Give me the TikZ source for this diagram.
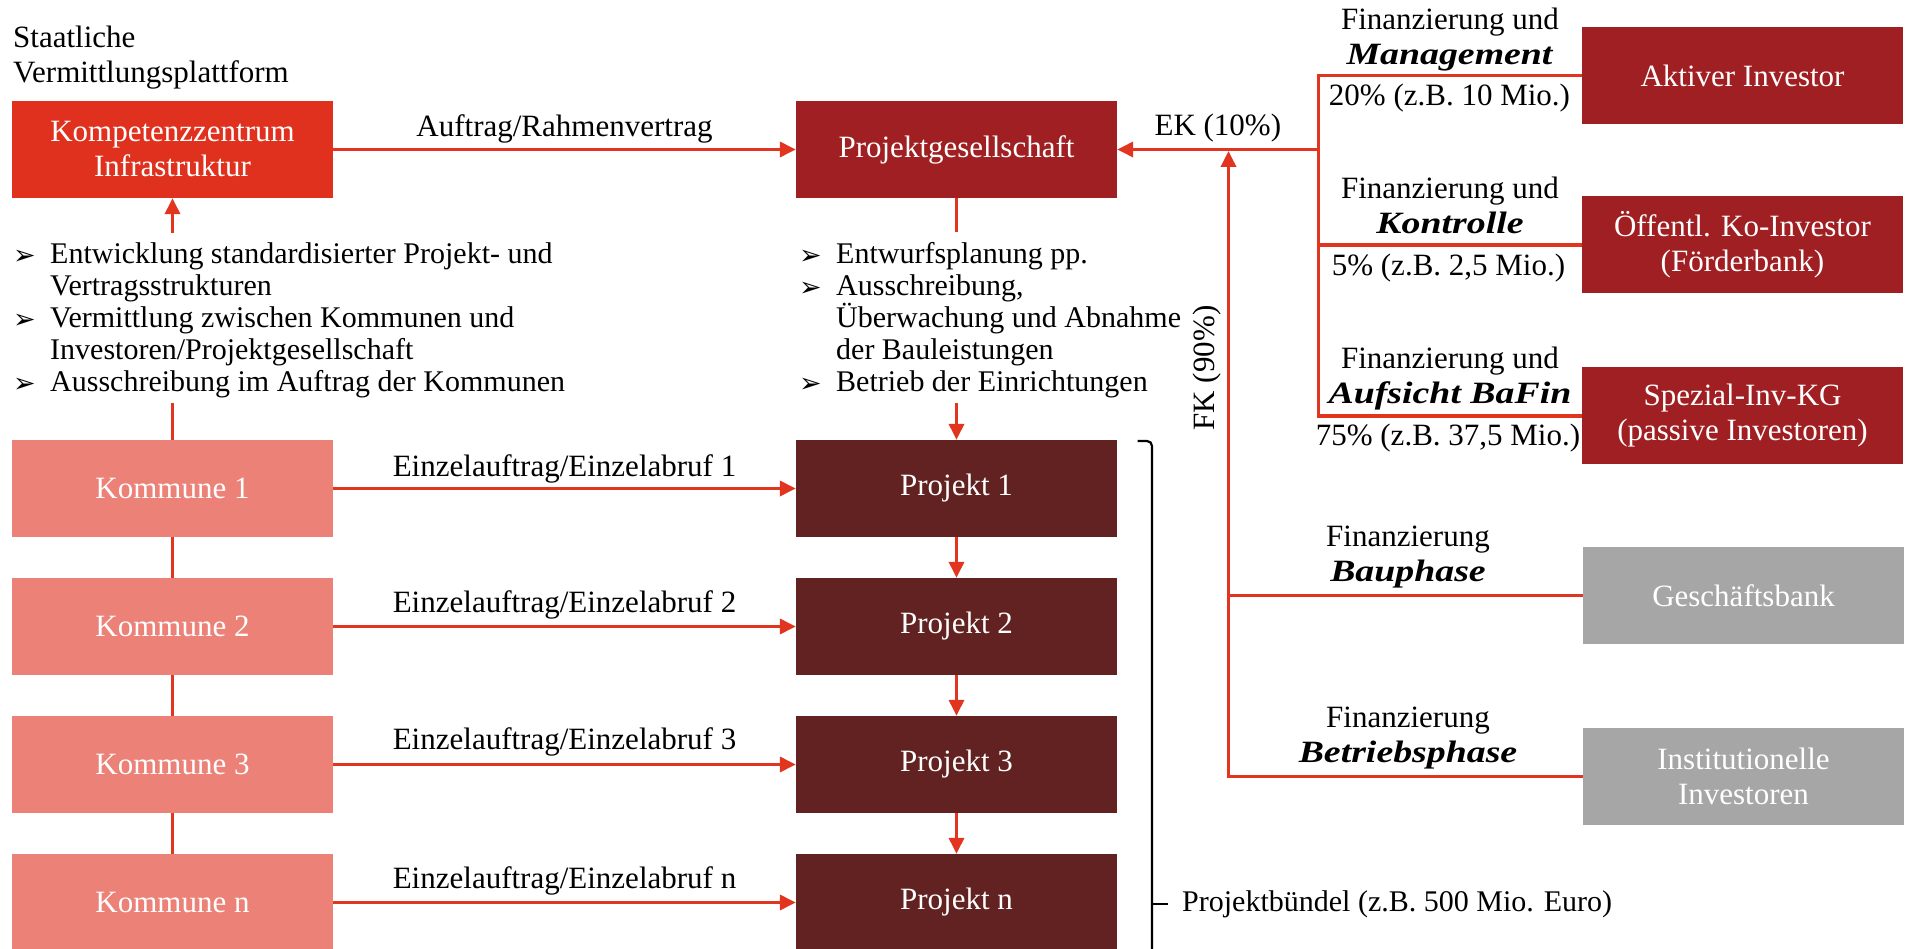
\documentclass[tikz,border=0pt]{standalone}
\usepackage{fontspec}
\usepackage{graphicx}
\setmainfont{Liberation Serif}
\newfontfamily\symfont{DejaVu Sans}
\usetikzlibrary{arrows.meta}
\definecolor{kzred}{HTML}{E0311F}
\definecolor{darkred}{HTML}{A01F22}
\definecolor{salmon}{HTML}{EC8177}
\definecolor{projbrown}{HTML}{612221}
\definecolor{linered}{HTML}{E2351F}
\definecolor{greybox}{HTML}{A6A6A6}
\newcommand{\bul}{\makebox[37pt][l]{\raisebox{-1pt}{\symfont\bfseries\fontsize{27}{27}\selectfont ➢}}}
\newcommand{\ind}{\hspace*{37pt}}
\newcommand{\bi}[1]{\scalebox{1.22}[1]{\textbf{\textit{#1}}}}
\begin{document}
\begin{tikzpicture}[x=1pt,y=-1pt,
  txt/.style={font=\fontsize{31}{35}\selectfont, inner sep=0pt},
  box/.style={txt, rectangle, minimum width=321pt, minimum height=97pt, text=white, align=center},
  lbl/.style={txt, align=center},
  bullets/.style={inner sep=0pt, font=\fontsize{30}{32}\selectfont, align=left, anchor=west},
  ln/.style={draw=linered, line width=3.5pt},
  arr/.style={ln, -{Triangle[length=16pt,width=15pt]}},
  brk/.style={draw=black, line width=2.2pt}
]
\useasboundingbox (0,0) rectangle (1907,949);

% left column
\node[lbl, align=left, anchor=west] (st) at (13,57.5) {Staatliche\\Vermittlungsplattform};
\node[box, fill=kzred] (kz) at (172.5,149.5) {Kompetenzzentrum\\Infrastruktur};
\node[box, fill=salmon] (k1) at (172.5,488.5) {Kommune 1};
\node[box, fill=salmon] (k2) at (172.5,626.5) {Kommune 2};
\node[box, fill=salmon] (k3) at (172.5,764.5) {Kommune 3};
\node[box, fill=salmon] (kn) at (172.5,902.5) {Kommune n};
\node[bullets] (bl) at (13,320) {\bul Entwicklung standardisierter Projekt- und\\
\ind Vertragsstrukturen\\
\bul Vermittlung zwischen Kommunen und\\
\ind Investoren/Projektgesellschaft\\
\bul Ausschreibung im Auftrag der Kommunen};

% middle column
\node[box, fill=darkred] (pg) at (956.5,149.5) {Projektgesellschaft};
\node[box, fill=projbrown] (p1) at (956.5,488.5) {Projekt 1};
\node[box, fill=projbrown] (p2) at (956.5,626.5) {Projekt 2};
\node[box, fill=projbrown] (p3) at (956.5,764.5) {Projekt 3};
\node[box, fill=projbrown] (pn) at (956.5,902.5) {Projekt n};
\node[bullets] (br) at (799,320) {\bul Entwurfsplanung pp.\\
\bul Ausschreibung,\\
\ind Überwachung und Abnahme\\
\ind der Bauleistungen\\
\bul Betrieb der Einrichtungen};

% right column
\node[box, fill=darkred] (ai) at (1742.5,75.5) {Aktiver Investor};
\node[box, fill=darkred] (oe) at (1742.5,245) {Öffentl. Ko-Investor\\(Förderbank)};
\node[box, fill=darkred] (sp) at (1742.5,416) {Spezial-Inv-KG\\(passive Investoren)};
\node[box, fill=greybox] (gb) at (1743.5,595.5) {Geschäftsbank};
\node[box, fill=greybox] (ib) at (1743.5,776.5) {Institutionelle\\Investoren};

% connectors left/middle
\draw[arr] (kz.east) -- (pg.west) node[lbl, midway, yshift=21pt] (l0) {Auftrag/Rahmenvertrag};
\draw[arr] (k1.east) -- (p1.west) node[lbl, midway, yshift=20pt] (l1) {Einzelauftrag/Einzelabruf 1};
\draw[arr] (k2.east) -- (p2.west) node[lbl, midway, yshift=22pt] (l2) {Einzelauftrag/Einzelabruf 2};
\draw[arr] (k3.east) -- (p3.west) node[lbl, midway, yshift=23pt] (l3) {Einzelauftrag/Einzelabruf 3};
\draw[arr] (kn.east) -- (pn.west) node[lbl, midway, yshift=22pt] (l4) {Einzelauftrag/Einzelabruf n};

\coordinate (kzlow) at (172.5,233);
\coordinate (k1up) at (172.5,403);
\draw[arr] (kzlow) -- (kz.south);
\draw[ln] (k1up) -- (k1.north);
\draw[ln] (k1.south) -- (k2.north);
\draw[ln] (k2.south) -- (k3.north);
\draw[ln] (k3.south) -- (kn.north);

\coordinate (pglow) at (956.5,232);
\coordinate (p1up) at (956.5,403);
\draw[ln] (pg.south) -- (pglow);
\draw[arr] (p1up) -- (p1.north);
\draw[arr] (p1.south) -- (p2.north);
\draw[arr] (p2.south) -- (p3.north);
\draw[arr] (p3.south) -- (pn.north);

% equity tree
\coordinate (ekj) at (1318.5,149.5);
\draw[ln] (ai.west) -- (ai.west -| ekj) -- (sp.west -| ekj) -- (sp.west);
\draw[ln] (oe.west) -- (oe.west -| ekj);
\draw[arr] (ekj) -- (pg.east) node[lbl, pos=0.5, yshift=21pt] (ek) {EK (10\%)};

% debt tree
\coordinate (fkj) at (1228.5,151);
\draw[arr] (ib.west) -| (fkj);
\draw[ln] (gb.west) -- (gb.west -| fkj);
\node[lbl, rotate=90] (fk) at (1207,368) {FK (90\%)};

% tree labels
\node[lbl] (f1) at (1450,39.5) {Finanzierung und\\\bi{Management}};
\node[lbl] (v1) at (1449.5,98) {20\% (z.B. 10 Mio.)};
\node[lbl] (f2) at (1450,205.5) {Finanzierung und\\\bi{Kontrolle}};
\node[lbl] (v2) at (1448.5,268) {5\% (z.B. 2,5 Mio.)};
\node[lbl] (f3) at (1450,378.5) {Finanzierung und\\\bi{Aufsicht BaFin}};
\node[lbl] (v3) at (1448,438) {75\% (z.B. 37,5 Mio.)};
\node[lbl] (f4) at (1408,557) {Finanzierung\\\bi{Bauphase}};
\node[lbl] (f5) at (1408,738) {Finanzierung\\\bi{Betriebsphase}};

% bracket
\coordinate (bt0) at (1137.5,441);
\coordinate (bt1) at (1152,441);
\coordinate (bbot) at (1152,960);
\coordinate (btip) at (1168,904);
\draw[brk, rounded corners=5pt] (bt0) -- (bt1) -- (bbot);
\draw[brk] (btip -| bt1) -- (btip);
\node[inner sep=0pt, font=\fontsize{30}{35}\selectfont, anchor=west] (pb) at (1182,904) {Projektbündel (z.B. 500 Mio. Euro)};
\end{tikzpicture}
\end{document}
